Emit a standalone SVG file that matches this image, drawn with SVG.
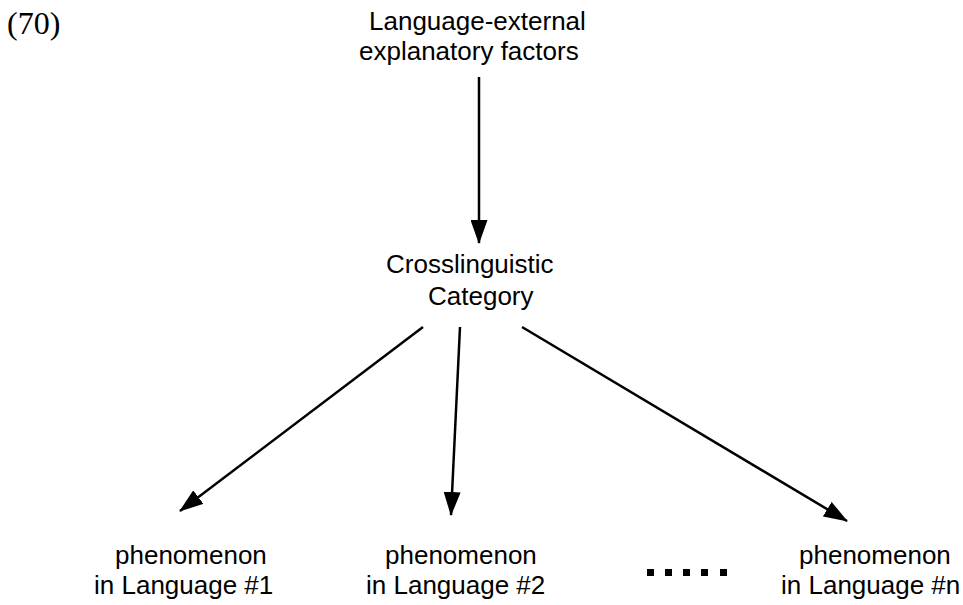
<svg xmlns="http://www.w3.org/2000/svg" width="963" height="605" viewBox="0 0 963 605">
  <defs>
    <marker id="arrow" viewBox="0 0 24 17" refX="23" refY="8.5" markerWidth="24" markerHeight="17" markerUnits="userSpaceOnUse" orient="auto">
      <path d="M0,0 L24,8.5 L0,17 Z" fill="#000"/>
    </marker>
    <style>
      .t { font-family: "Liberation Sans", Arial, sans-serif; font-size: 26px; fill: #000; }
      .num { font-family: "Liberation Serif", "Times New Roman", serif; font-size: 32px; fill: #000; }
      .c { stroke: #000; stroke-width: 2.5; fill: none; marker-end: url(#arrow); }
      .dot { fill: #000; }
    </style>
  </defs>
  <rect width="963" height="605" fill="#fff"/>
  <text class="num" x="7" y="34">(70)</text>
  <g id="external">
    <text class="t" x="369" y="30">Language-external</text>
    <text class="t" x="359" y="60">explanatory factors</text>
  </g>
  <g id="category">
    <text class="t" x="386" y="273">Crosslinguistic</text>
    <text class="t" x="428" y="305">Category</text>
  </g>
  <g id="lang1">
    <text class="t" x="115" y="564">phenomenon</text>
    <text class="t" x="94" y="594">in Language #1</text>
  </g>
  <g id="lang2">
    <text class="t" x="385" y="564">phenomenon</text>
    <text class="t" x="366" y="594">in Language #2</text>
  </g>
  <g id="langn">
    <text class="t" x="799" y="564">phenomenon</text>
    <text class="t" x="781" y="594">in Language #n</text>
  </g>
  <g id="ellipsis">
    <rect class="dot" x="647" y="569" width="7" height="7"/>
    <rect class="dot" x="665" y="569" width="7" height="7"/>
    <rect class="dot" x="683" y="569" width="7" height="7"/>
    <rect class="dot" x="701" y="569" width="7" height="7"/>
    <rect class="dot" x="720" y="569" width="7" height="7"/>
  </g>
  <g id="connectors">
    <line class="c" x1="479" y1="77" x2="479" y2="243"/>
    <line class="c" x1="423" y1="327" x2="180" y2="511"/>
    <line class="c" x1="460" y1="327" x2="451" y2="515"/>
    <line class="c" x1="522" y1="327" x2="847" y2="521"/>
  </g>
</svg>
